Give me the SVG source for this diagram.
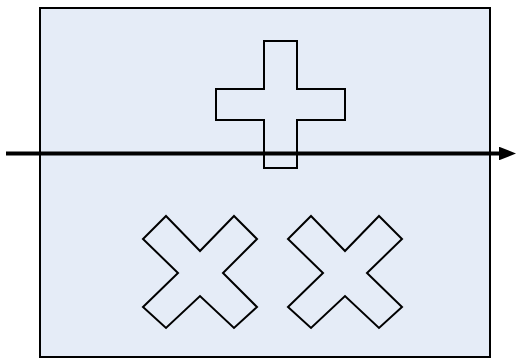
<svg xmlns="http://www.w3.org/2000/svg" width="516" height="362" viewBox="0 0 516 362">
<defs>
<style>
.shape{fill:none;stroke:#000;stroke-width:2;stroke-linejoin:miter}
.frame{fill:#E5ECF7;stroke:#000;stroke-width:2}
.conn{stroke:#000;stroke-width:4;fill:none}
</style>
<marker id="ah" markerWidth="4.25" markerHeight="3.4" refX="0" refY="1.7" orient="auto" markerUnits="strokeWidth">
<path d="M0,0 L4.25,1.7 L0,3.4 Z" fill="#000"/>
</marker>
</defs>
<g id="frame"><rect class="frame" x="40" y="8" width="450" height="349"/></g>
<g id="plus"><path class="shape" d="M264,41 H297 V89 H345 V120 H297 V168 H264 V120 H216 V89 H264 Z"/></g>
<g id="x1"><path class="shape" d="M166,216 L200,251 L234,216 L257,239 L223,273 L257,307 L234,328 L200,296 L166,328 L143,307 L178,273 L143,239 Z"/></g>
<g id="x2"><path class="shape" d="M311,216 L345,251 L379,216 L402,239 L367,273 L402,307 L379,328 L345,296 L311,328 L288,307 L323,273 L288,239 Z"/></g>
<g id="connectors"><line class="conn" x1="6" y1="153.5" x2="499" y2="153.5" marker-end="url(#ah)"/></g>
</svg>
